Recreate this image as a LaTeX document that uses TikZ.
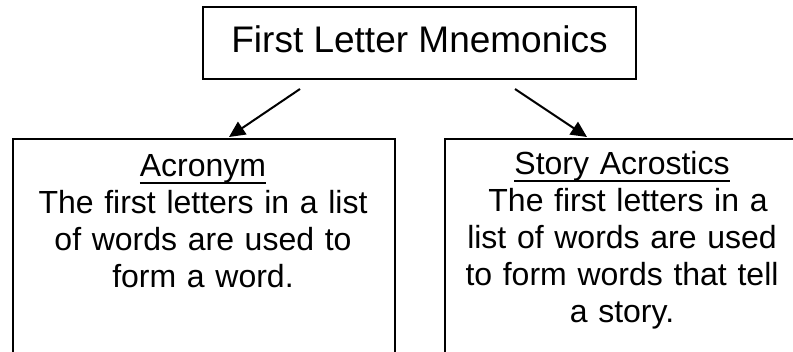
\documentclass[tikz,border=0pt]{standalone}
\usepackage{fontspec}
\setmainfont{Liberation Sans}
\usetikzlibrary{arrows.meta}
\newcommand\myul[1]{\setbox0\hbox{#1}\makebox[0pt][l]{\rule[-7.5pt]{\wd0}{2.4pt}}#1}
\begin{document}
\begin{tikzpicture}[x=1pt,y=-1pt,
  box/.style={draw, line width=2.2pt, inner sep=0pt},
  body/.style={font=\fontsize{32}{36.8}\selectfont, align=center, text width=380pt, inner sep=0pt},
  arr/.style={line width=2pt, -{Triangle[length=16pt,width=15pt]}}]
\fill[white] (0,0) rectangle (793,352);
\useasboundingbox (0,0) rectangle (793,352);
\node[box, minimum width=433pt, minimum height=72pt, text height=30pt, text depth=10pt,
  font=\fontsize{37}{43}\selectfont] (top) at (419.5,43) {First Letter Mnemonics};
\node[box, anchor=north west, minimum width=382pt, minimum height=260pt] (acr) at (12,138) {};
\node[box, anchor=north west, minimum width=382pt, minimum height=260pt] (sto) at (444,138) {};
\node[body, anchor=base] (acrtext) at (203,177) {\myul{Acronym}\\The first letters in a list\\of words are used to\\form a word.};
\node[body, anchor=base] (stotext) at (622,175) {\myul{Story Acrostics}\\\hspace*{12pt}The first letters in a\\list of words are used\\to form words that tell\\a story.};
\coordinate (la) at (300,89);
\coordinate (lb) at (229,137);
\coordinate (ra) at (515,89);
\coordinate (rb) at (587,137);
\draw[arr] (la) -- (lb);
\draw[arr] (ra) -- (rb);
\end{tikzpicture}
\end{document}
